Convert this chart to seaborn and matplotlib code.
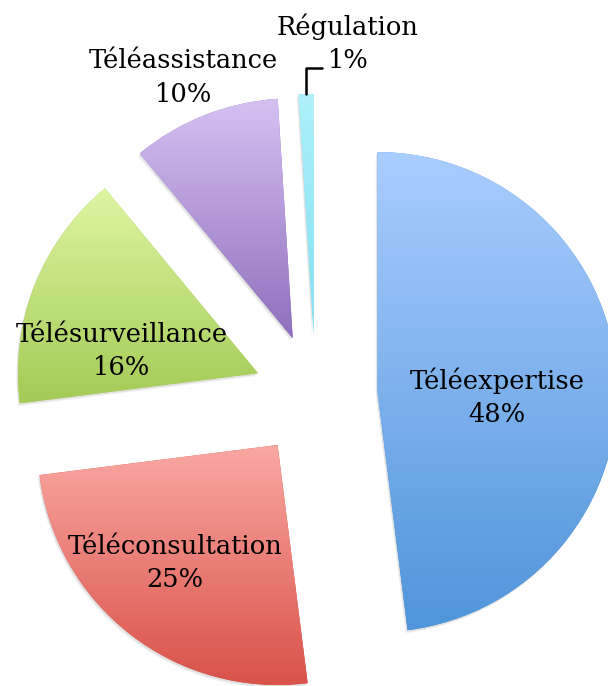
import numpy as np
import matplotlib
matplotlib.use("Agg")
import matplotlib.pyplot as plt
import seaborn as sns
from matplotlib.colors import LinearSegmentedColormap
from matplotlib.patches import Wedge

labels = ["Téléexpertise", "Téléconsultation", "Télésurveillance", "Téléassistance", "Régulation"]
shares = [48, 25, 16, 10, 1]
top_colors = ["#aacdff", "#faa8a2", "#def5a2", "#d6c1f2", "#aef0fa"]
bottom_colors = ["#5095da", "#d9524a", "#a3cb56", "#8f6fbd", "#80e0f0"]

sns.set_theme(style="white")
plt.rcParams["font.family"] = ["DejaVu Serif"]

fig = plt.figure(figsize=(6.08, 6.86), dpi=100)
ax = fig.add_axes([0, 0, 1, 1])

cx, cy, r = 315.6, 290.0, 240.0
wedges, _ = ax.pie(shares, startangle=90, counterclock=False,
                   explode=[62] * len(shares), radius=r, center=(cx, cy),
                   colors=bottom_colors, wedgeprops=dict(linewidth=0))

# soft shadow + vertical gradient fill per slice
for w, c_top, c_bot in zip(wedges, top_colors, bottom_colors):
    for k, a in [(3.0, 0.08), (1.8, 0.12)]:
        sh = Wedge((w.center[0] - k * 0.6, w.center[1] - k), w.r, w.theta1, w.theta2,
                   facecolor="#606060", alpha=a, linewidth=0, zorder=0.5)
        ax.add_patch(sh)
    w.set_zorder(1)
    ext = w.get_path().get_extents()
    cmap = LinearSegmentedColormap.from_list("g", [c_bot, c_top])
    grad = np.linspace(0, 1, 256).reshape(-1, 1)
    im = ax.imshow(grad, cmap=cmap, origin="lower", aspect="auto",
                   extent=(ext.x0, ext.x1, ext.y0, ext.y1), zorder=2)
    im.set_clip_path(w)

ax.set_xlim(0, 608)
ax.set_ylim(0, 686)
ax.set_aspect("equal")
ax.axis("off")

fs = 18.5
txt = dict(ha="center", va="center", fontsize=fs, color="black", linespacing=1.42, zorder=5)
label_pos = [(497, 288.5), (175, 123), (122, 335), (183, 608.5), (348, 642.5)]
for name, val, (tx, ty) in zip(labels, shares, label_pos):
    ax.text(tx, ty, f"{name}\n{val}%", **txt)

# leader line for the small slice
w = wedges[-1]
mid = np.deg2rad((w.theta1 + w.theta2) / 2)
x0 = w.center[0] + w.r * np.cos(mid)
y0 = w.center[1] + w.r * np.sin(mid)
ax.plot([x0, x0, x0 + 16], [y0, y0 + 26, y0 + 26], color="black", lw=1.8, zorder=5)

fig.savefig("out.png", dpi=100)
